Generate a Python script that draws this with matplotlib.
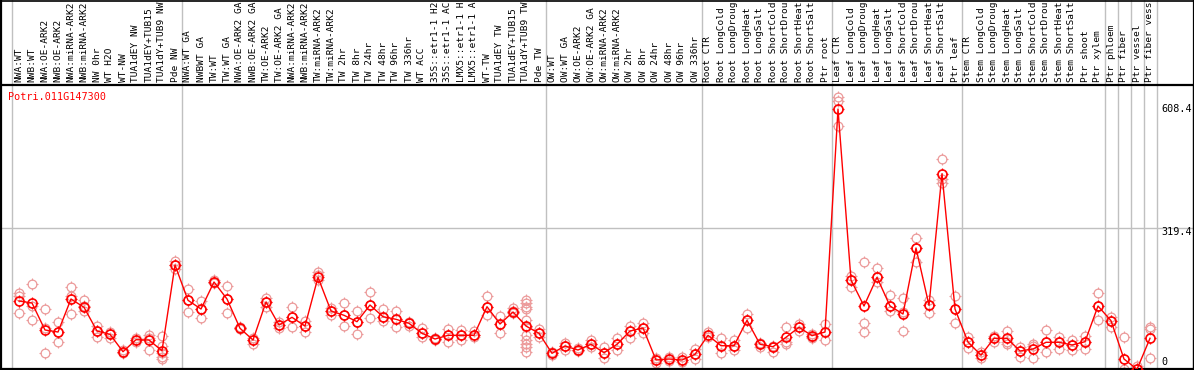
import numpy as np
import matplotlib
matplotlib.use("Agg")
import matplotlib.pyplot as plt
from matplotlib.path import Path
from matplotlib.transforms import blended_transform_factory

gene_id = "Potri.011G147300"

labels = [
    "NWA:WT", "NWB:WT", "NWA:OE-ARK2", "NWB:OE-ARK2", "NWA:miRNA-ARK2", "NWB:miRNA-ARK2",
    "NW 0hr", "WT H2O", "WT-NW", "TUA1dEY NW", "TUA1dEY+TUB15", "TUA1dY+TUB9 NW", "Pde NW",
    "NWA:WT GA", "NWBWT GA", "TW:WT", "TW:WT GA", "NWA:OE-ARK2 GA", "NWB:OE-ARK2 GA",
    "TW:OE-ARK2", "TW:OE-ARK2 GA", "NWA:miRNA-ARK2", "NWB:miRNA-ARK2", "TW:miRNA-ARK2",
    "TW:miRNA-ARK2", "TW 2hr", "TW 8hr", "TW 24hr", "TW 48hr", "TW 96hr", "TW 336hr",
    "WT ACC", "35S::etr1-1 H2", "35S::etr1-1 AC", "LMX5::etr1-1 H", "LMX5::etr1-1 A",
    "WT-TW", "TUA1dEY TW", "TUA1dEY+TUB15", "TUA1dY+TUB9 TW", "Pde TW",
    "OW:WT", "OW:WT GA", "OW:OE-ARK2", "OW:OE-ARK2 GA", "OW:miRNA-ARK2", "OW:miRNA-ARK2",
    "OW 2hr", "OW 8hr", "OW 24hr", "OW 48hr", "OW 96hr", "OW 336hr",
    "Root CTR", "Root LongCold", "Root LongDroug", "Root LongHeat", "Root LongSalt",
    "Root ShortCold", "Root ShortDrou", "Root ShortHeat", "Root ShortSalt", "Ptr root",
    "Leaf CTR", "Leaf LongCold", "Leaf LongDroug", "Leaf LongHeat", "Leaf LongSalt",
    "Leaf ShortCold", "Leaf ShortDrou", "Leaf ShortHeat", "Leaf ShortSalt", "Ptr leaf",
    "Stem CTR", "Stem LongCold", "Stem LongDroug", "Stem LongHeat", "Stem LongSalt",
    "Stem ShortCold", "Stem ShortDrou", "Stem ShortHeat", "Stem ShortSalt", "Ptr shoot",
    "Ptr xylem", "Ptr phloem", "Ptr fiber", "Ptr vessel", "Ptr fiber vess",
]

group_sizes = [13, 28, 12, 10, 10, 11, 1, 1, 1, 1]

means = [
    143.4, 138.6, 73.2, 68.3, 148.3, 128.2, 70.7, 62.7, 20.6, 49.7, 48.9, 23.0, 230.6,
    145.1, 124.0, 189.4, 148.3, 77.3, 48.9, 141.0, 85.3, 103.9, 82.8, 200.8, 119.2, 108.8,
    93.3, 133.7, 105.4, 99.1, 89.4, 65.2, 51.4, 60.3, 60.3, 60.3, 129.6, 87.7, 116.8, 82.8, 65.2,
    16.7, 34.4, 24.7, 38.5, 18.2, 38.5, 70.7, 78.0, 0.5, 2.9, 0.5, 14.3,
    60.3, 35.1, 35.1, 96.7, 38.5, 32.7, 55.5, 79.7, 59.4, 68.3,
    608.4, 194.3, 131.3, 200.8, 131.3, 111.9, 271.8, 133.0, 451.8, 124.0,
    44.1, 12.1, 53.1, 53.1, 22.3, 27.1, 43.4, 43.4, 36.8, 44.8, 131.3,
    95.7, 2.9, -22.0, 53.1,
]

replicates = [
    [162.8, 155.5, 114.3], [183.9, 132.0, 97.4], [123.3, 78.0, 16.7], [92.5, 68.3, 44.1],
    [177.3, 155.5, 111.9], [145.8, 131.3, 119.9], [82.8, 70.7, 55.5], [68.3, 62.7, 53.8],
    [24.7, 20.6, 17.4], [54.5, 48.9, 44.1], [61.0, 53.8, 24.7],
    [59.4, 34.4, 17.4, 8.5, 2.2], [241.0, 230.6, 220.9],
    [171.8, 145.1, 116.8], [143.4, 124.0, 101.5], [194.3, 189.4, 186.3], [179.8, 148.3, 113.6],
    [79.7, 77.3, 74.9], [54.5, 48.9, 39.2], [150.0, 141.0, 129.6], [93.3, 85.3, 77.3],
    [128.2, 103.9, 81.2], [95.0, 82.8, 69.0], [212.9, 206.4, 194.3], [125.7, 119.2, 109.5],
    [137.8, 108.8, 82.8], [119.2, 93.3, 63.5], [164.5, 133.7, 101.5], [123.3, 105.4, 95.0],
    [119.2, 99.1, 79.7], [91.8, 89.4, 82.8], [78.7, 65.2, 55.5], [54.5, 51.4, 48.2],
    [75.6, 60.3, 44.1], [72.4, 60.3, 48.9], [70.7, 60.3, 55.5], [155.5, 129.6, 108.8],
    [107.1, 87.7, 65.9], [125.7, 119.9, 113.6],
    [145.8, 137.8, 129.6, 123.3, 97.4, 79.7, 61.0, 48.9, 39.2, 31.3, 20.6],
    [74.9, 65.2, 56.9],
    [20.6, 16.7, 12.6], [40.9, 34.4, 24.7], [28.8, 24.7, 22.3], [48.9, 38.5, 32.7],
    [31.3, 18.2, 4.6], [53.1, 38.5, 24.7], [83.6, 70.7, 54.5], [90.8, 78.0, 66.6],
    [4.6, 0.5, -6.1], [8.5, 2.9, -1.9], [8.5, -0.2, -3.6], [26.4, 14.3, 2.9],
    [68.3, 60.3, 55.5], [53.8, 35.1, 18.2], [48.9, 35.1, 24.7], [111.9, 96.7, 78.7],
    [40.9, 38.5, 32.7], [34.4, 32.7, 20.6], [79.7, 43.4, 39.2], [87.0, 79.7, 71.5],
    [63.5, 56.9, 53.1], [87.7, 68.3, 48.9],
    [636.9, 628.6, 567.3], [204.0, 194.3, 176.6], [237.9, 89.4, 68.3], [222.6, 200.8, 189.4],
    [157.9, 131.3, 119.2], [150.0, 117.5, 71.5], [295.3, 271.8, 238.6], [145.8, 133.0, 115.1],
    [486.7, 440.0, 430.0], [155.5, 124.0, 90.8],
    [55.5, 44.1, 28.8], [20.6, 12.1, 4.6], [58.6, 53.1, 44.8], [71.5, 44.8, 39.2],
    [31.3, 22.3, 8.5], [39.2, 34.4, 4.6], [73.2, 43.4, 20.6], [56.9, 43.4, 26.4],
    [48.9, 36.8, 24.7], [58.6, 44.8, 26.4], [162.1, 131.3, 97.4],
    [105.4, 95.7, 81.2], [55.5, -22.0, -28.0], [-30.0, -22.0, -14.0], [79.7, 74.9, 4.6],
]

tick_values = [608.4, 319.4, 0]

# ---------------------------------------------------------------
W, H = 1194, 370
fig = plt.figure(figsize=(W / 100, H / 100), dpi=100)
fig.patch.set_facecolor("white")

ax_top_px, ax_bot_px = 85, 369
ax = fig.add_axes([0, (H - ax_bot_px) / H, 1, (ax_bot_px - ax_top_px) / H])
ax.set_facecolor("white")

n = len(labels)
x = np.arange(n)
ax.set_xlim(-19 / 13, (W - 19) / 13)
ax.set_ylim(-21.3, 666.7)
ax.set_xticks([])
ax.set_yticks([])
for side in ["left", "right", "top", "bottom"]:
    ax.spines[side].set_color("black")
    ax.spines[side].set_linewidth(1.6)

# figure border (top)
fig.add_artist(plt.Line2D([0, 1], [1 - 0.5 / H, 1 - 0.5 / H], color="black", lw=1.2,
                          transform=fig.transFigure))
fig.add_artist(plt.Line2D([0.5 / W, 0.5 / W], [0, 1], color="black", lw=1.6,
                          transform=fig.transFigure))
fig.add_artist(plt.Line2D([1 - 0.5 / W, 1 - 0.5 / W], [0, 1], color="black", lw=1.6,
                          transform=fig.transFigure))

# group separators
bounds = np.concatenate([[0], np.cumsum(group_sizes)]) - 0.5
top_ext = ax_bot_px / (ax_bot_px - ax_top_px)
for b in bounds:
    ax.axvline(b, ymin=0, ymax=top_ext, color="#c0c0c0", lw=1.0, clip_on=False, zorder=0.5)

# horizontal grid line at middle value
ax.axhline(tick_values[1], color="#c0c0c0", lw=1.0, zorder=0.5)

# labels along the top
trans = blended_transform_factory(ax.transData, ax.transAxes)
for i, lab in enumerate(labels):
    ax.text(i, 1 + 3 / (ax_bot_px - ax_top_px), lab, transform=trans, rotation=90,
            ha="center", va="bottom", fontsize=6.8, family="DejaVu Sans Mono",
            color="black", clip_on=False)

# marker with small ticks
tick_path = Path(
    [(0, 0.72), (0, 1), (0, -0.72), (0, -1), (0.72, 0), (1, 0), (-0.72, 0), (-1, 0)],
    [Path.MOVETO, Path.LINETO] * 4,
)

pink = "#ec9a9a"
red = "#ff0000"
for i, reps in enumerate(replicates):
    xs = np.full(len(reps), i)
    ax.plot(xs, reps, linestyle="none", marker="o", markersize=6.3,
            markerfacecolor="none", markeredgecolor=pink, markeredgewidth=0.9, zorder=2)
    ax.plot(xs, reps, linestyle="none", marker=tick_path, markersize=8.2,
            markeredgecolor=pink, markeredgewidth=0.8, zorder=2)

ax.plot(x, means, color=red, lw=1.0, zorder=3)
ax.plot(x, means, linestyle="none", marker="o", markersize=6.5,
        markerfacecolor="none", markeredgecolor=red, markeredgewidth=1.2, zorder=4)
ax.plot(x, means, linestyle="none", marker=tick_path, markersize=8.6,
        markeredgecolor=red, markeredgewidth=0.9, zorder=4)

# gene id
ax.text(8 / W, 1 - 12 / (ax_bot_px - ax_top_px), gene_id, transform=ax.transAxes,
        ha="left", va="center", fontsize=7.3, family="DejaVu Sans Mono", color=red)

# right-side value labels
rtrans = blended_transform_factory(ax.transAxes, ax.transData)
offsets = {0: 0.0, 1: -9.0, 2: -5.0}
for k, v in enumerate(tick_values):
    txt = f"{v:g}" if v == 0 else f"{v:.1f}"
    ax.text(1161 / W, v + offsets[k], txt, transform=rtrans, ha="left", va="center",
            fontsize=7.3, family="DejaVu Sans Mono", color="black")

fig.savefig("out.png", dpi=100)
